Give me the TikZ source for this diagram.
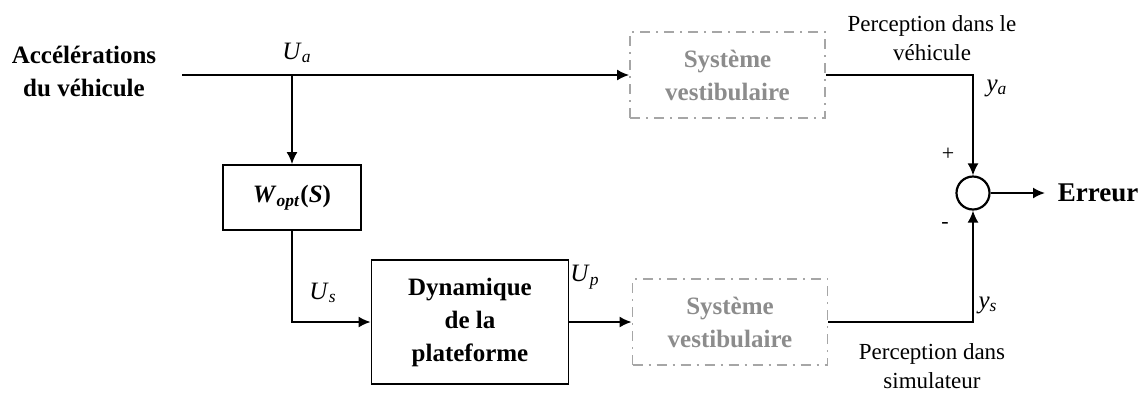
\documentclass[tikz,border=0pt]{standalone}
\usepackage{fontspec}
\setmainfont{Liberation Serif}
\definecolor{vestgray}{HTML}{8C8C8C}
\definecolor{dashgray}{HTML}{A6A6A6}
\usetikzlibrary{
    arrows.meta,
    positioning,
}
\tikzset{>={Latex[length=6pt,width=5.5pt]}}
\tikzset{
    block/.style={draw,line width=0.9pt,inner sep=0pt,align=center,
        font=\fontsize{12.5}{16.5}\selectfont\bfseries},
    vestbox/.style={draw=dashgray,line width=0.9pt,dash pattern=on 5pt off 3pt on 1pt off 3pt,
        minimum width=97.5pt,minimum height=43pt,inner sep=0pt,align=center,
        text=vestgray,font=\fontsize{12.5}{16.5}\selectfont\bfseries},
    sig/.style={font=\fontsize{12.5}{15}\selectfont},
    note/.style={align=center,font=\fontsize{11.5}{14.5}\selectfont},
}

\begin{document}
\begin{tikzpicture}[x=0.5pt,y=-0.5pt,line width=0.9pt,font=\fontsize{12.5}{16.5}\selectfont]
    \useasboundingbox (0,0) rectangle (1140,392);
    \node[align=center,font=\fontsize{12.5}{16.5}\selectfont\bfseries] (acc) at (84,71) {Accélérations\\du véhicule};
    \coordinate (in) at (182,75);
    \coordinate (split) at (292,75);
    \node[block,minimum width=69pt,minimum height=32.5pt] (wopt) at (292,197.5) {\textit{W}\textsubscript{\textit{opt}}(\textit{S})};
    \node[block,minimum width=98.5pt,minimum height=62pt] (dyn) at (470,322) {Dynamique\\de la\\plateforme};
    \node[vestbox] (vesta) at (727.5,75) {Système\\vestibulaire};
    \node[vestbox] (vests) at (730,322) {Système\\vestibulaire};
    \node[draw,circle,line width=1.1pt,minimum size=16.5pt,inner sep=0pt] (sum) at (973,193) {};
    \node[anchor=west,inner sep=6pt,font=\fontsize{13.5}{16.5}\selectfont\bfseries] (err) at (1045,193) {Erreur};
    % signal names
    \node[sig] (ua) at (297,53) {\textit{U}\textsubscript{\textit{a}}};
    \node[sig] (us) at (323,293) {\textit{U}\textsubscript{\textit{s}}};
    \node[sig] (up) at (585,277) {\textit{U}\textsubscript{\textit{p}}};
    \node[sig] (ya) at (997,88) {\textit{y}\textsubscript{\textit{a}}};
    \node[sig] (ys) at (988,305) {\textit{y}\textsubscript{\textit{s}}};
    \node[font=\fontsize{11}{13}\selectfont] (plus) at (948,154) {+};
    \node[font=\fontsize{11}{13}\selectfont] (minus) at (945,225) {-};
    \node[note] (perca) at (932,38) {Perception dans le\\véhicule};
    \node[note] (percs) at (932,366) {Perception dans\\simulateur};
    % connectors
    \draw[->] (in) -- (vesta.west);
    \draw[->] (split) -- (wopt.north);
    \draw[->] (wopt.south) |- (dyn.west);
    \draw[->] (dyn.east) -- (vests.west);
    \draw[->] (vesta.east) -| (sum.north);
    \draw[->] (vests.east) -| (sum.south);
    \draw[->] (sum.east) -- (err.west);
\end{tikzpicture}
\end{document}
